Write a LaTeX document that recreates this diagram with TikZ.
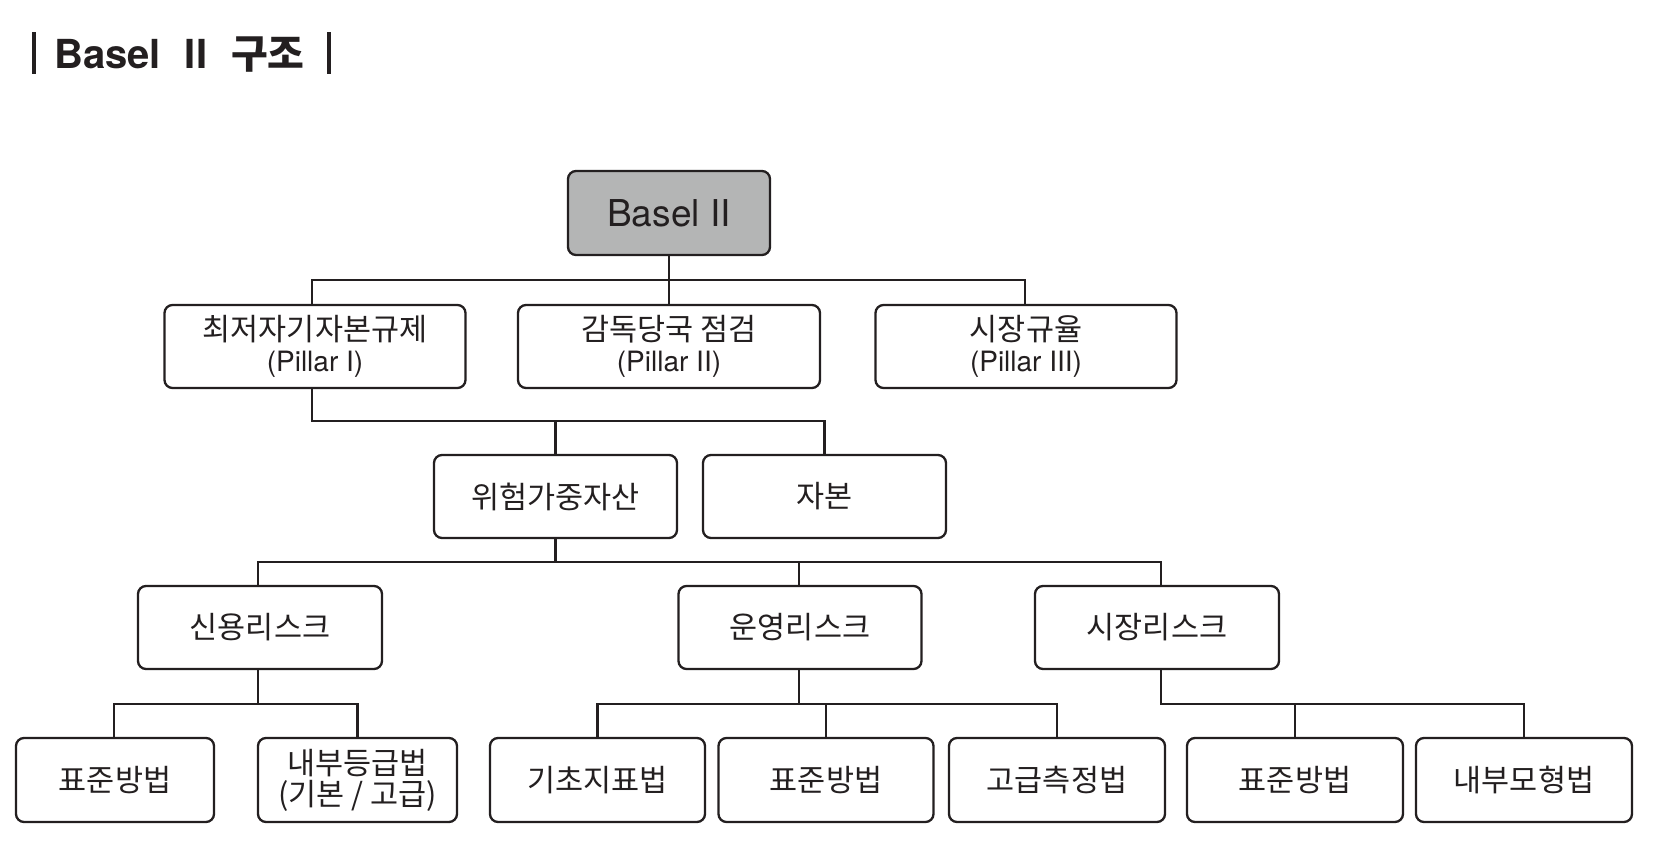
\documentclass[tikz,border=0pt]{standalone}
\usepackage{fontspec}
\setmainfont{TeX Gyre Heros}
\newfontfamily\kr{Noto Sans CJK KR}
\definecolor{ink}{RGB}{35,31,32}
\definecolor{boxgray}{RGB}{180,181,181}
\newcommand{\latline}[1]{{\fontsize{28}{31}\selectfont\rmfamily #1}}
\tikzset{
  box/.style={draw=ink, line width=2.3pt, rounded corners=8pt, fill=white,
    minimum height=83pt, inner sep=0pt, align=center, text=ink,
    font=\fontsize{30.5}{31}\selectfont\kr},
  conn/.style={draw=ink, line width=2.3pt}
}
\begin{document}
\begin{tikzpicture}[x=1pt,y=-1pt]
\useasboundingbox (0,0) rectangle (1658,842);

% title
\node[anchor=base west, inner sep=0pt, text=ink, font=\fontsize{40}{44}\selectfont\bfseries] (title) at (32,69)
  {\rule[-5pt]{4pt}{42pt}\hspace{18pt}Basel\hspace{24pt}II\hspace{24pt}{\kr\bfseries 구조}\hspace{22pt}\rule[-5pt]{4pt}{42pt}};

% level 0
\node[box, fill=boxgray, minimum width=202pt, minimum height=84pt, font=\fontsize{37}{40}\selectfont] (basel) at (669,213) {Basel II};

% level 1
\node[box, minimum width=301pt] (p1) at (315,346.5) {최저자기자본규제\\\latline{(Pillar I)}};
\node[box, minimum width=302pt] (p2) at (669,346.5) {감독당국 점검\\\latline{(Pillar II)}};
\node[box, minimum width=301pt] (p3) at (1026,346.5) {시장규율\\\latline{(Pillar III)}};

% level 2
\node[box, minimum width=243pt] (rwa) at (555.5,496.5) {위험가중자산};
\node[box, minimum width=243pt] (cap) at (824.5,496.5) {자본};

% level 3
\node[box, minimum width=244pt] (cr) at (260,627.5) {신용리스크};
\node[box, minimum width=243pt] (op) at (800,627.5) {운영리스크};
\node[box, minimum width=244pt] (mk) at (1157,627.5) {시장리스크};

% level 4
\node[box, minimum width=198pt, minimum height=84pt] (a1) at (115,780) {표준방법};
\node[box, minimum width=199pt, minimum height=84pt] (a2) at (357.5,780) {내부등급법\\(기본 / 고급)};
\node[box, minimum width=215pt, minimum height=84pt] (b1) at (597.5,780) {기초지표법};
\node[box, minimum width=215pt, minimum height=84pt] (b2) at (826,780) {표준방법};
\node[box, minimum width=216pt, minimum height=84pt] (b3) at (1057,780) {고급측정법};
\node[box, minimum width=216pt, minimum height=84pt] (c1) at (1295,780) {표준방법};
\node[box, minimum width=216pt, minimum height=84pt] (c2) at (1524,780) {내부모형법};

% bus coordinates
\coordinate (bus1) at (0,280);
\coordinate (bus2) at (0,421);
\coordinate (bus3) at (0,562);
\coordinate (bus4) at (0,704);

% connectors
\draw[conn] (basel.south) -- (p2.north);
\draw[conn] ([xshift=-3pt]p1.north) -- ([xshift=-3pt]p1.north |- bus1) -- ([xshift=-1pt]p3.north |- bus1) -- ([xshift=-1pt]p3.north);

\draw[conn] ([xshift=-3pt]p1.south) -- ([xshift=-3pt]p1.south |- bus2) -- (cap.north |- bus2) -- (cap.north);
\draw[conn] (rwa.north) -- (rwa.north |- bus2);

\draw[conn] (rwa.south) -- (rwa.south |- bus3);
\draw[conn] ([xshift=-2pt]cr.north) -- ([xshift=-2pt]cr.north |- bus3) -- ([xshift=4pt]mk.north |- bus3) -- ([xshift=4pt]mk.north);
\draw[conn] ([xshift=-1pt]op.north) -- ([xshift=-1pt]op.north |- bus3);

\draw[conn] ([xshift=-2pt]cr.south) -- ([xshift=-2pt]cr.south |- bus4);
\draw[conn] ([xshift=-1pt]a1.north) -- ([xshift=-1pt]a1.north |- bus4) -- (a2.north |- bus4) -- (a2.north);

\draw[conn] ([xshift=-1pt]op.south) -- ([xshift=-1pt]op.south |- bus4);
\draw[conn] (b1.north) -- (b1.north |- bus4) -- (b3.north |- bus4) -- (b3.north);
\draw[conn] (b2.north) -- (b2.north |- bus4);

\draw[conn] ([xshift=4pt]mk.south) -- ([xshift=4pt]mk.south |- bus4) -- (c2.north |- bus4) -- (c2.north);
\draw[conn] (c1.north) -- (c1.north |- bus4);
\end{tikzpicture}
\end{document}
